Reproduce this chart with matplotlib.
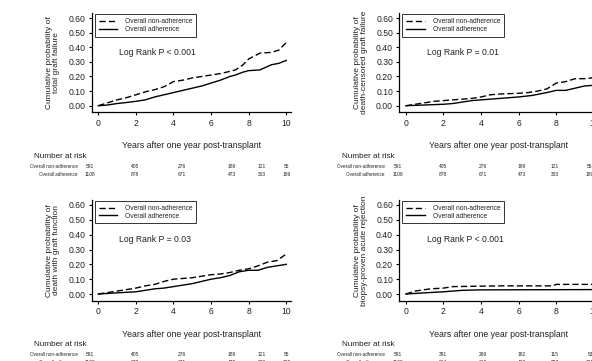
import matplotlib
matplotlib.use("Agg")
import matplotlib.pyplot as plt

# ---------------- data ----------------
years_ticks = [0, 2, 4, 6, 8, 10]
ytick_vals = [0.0, 0.1, 0.2, 0.3, 0.4, 0.5, 0.6]
xlabel = "Years after one year post-transplant"
series_labels = ["Overall non-adherence", "Overall adherence"]

# Panel A: total graft failure
a_t_non = [0, 0.5, 1, 1.5, 2, 2.5, 3, 3.5, 4, 4.5, 5, 5.5, 6, 6.5, 7, 7.3, 7.7, 8.0, 8.3, 8.6, 9.2, 9.6, 9.9, 10.0]
a_v_non = [0, 0.02, 0.04, 0.055, 0.075, 0.095, 0.11, 0.13, 0.165, 0.175, 0.19, 0.2, 0.21, 0.22, 0.235, 0.245, 0.28, 0.32, 0.34, 0.36, 0.365, 0.38, 0.42, 0.43]
a_t_adh = [0, 0.5, 1, 1.5, 2, 2.5, 3, 3.5, 4, 4.5, 5, 5.5, 6, 6.5, 7, 7.3, 7.7, 8.0, 8.6, 9.2, 9.6, 9.9, 10.0]
a_v_adh = [0, 0.005, 0.015, 0.022, 0.03, 0.04, 0.06, 0.075, 0.09, 0.105, 0.12, 0.135, 0.155, 0.175, 0.2, 0.21, 0.23, 0.24, 0.245, 0.28, 0.29, 0.305, 0.31]

# Panel B: death-censored graft failure
b_t_non = [0, 0.5, 1, 1.5, 2, 2.5, 3, 3.5, 4, 4.5, 5, 6, 6.5, 7, 7.5, 8, 8.5, 9, 9.5, 9.9, 10.0]
b_v_non = [0, 0.01, 0.02, 0.03, 0.035, 0.04, 0.045, 0.05, 0.06, 0.075, 0.08, 0.085, 0.09, 0.1, 0.115, 0.155, 0.165, 0.185, 0.185, 0.19, 0.21]
b_t_adh = [0, 1, 2, 2.5, 3, 3.5, 4, 5, 6, 6.7, 7.5, 8, 8.5, 9, 9.5, 10.0]
b_v_adh = [0, 0.005, 0.01, 0.015, 0.025, 0.035, 0.04, 0.05, 0.06, 0.07, 0.09, 0.105, 0.105, 0.12, 0.135, 0.14]

# Panel C: death with graft function
c_t_non = [0, 0.5, 1, 1.5, 2, 2.5, 3, 3.5, 4, 4.5, 5, 5.5, 6, 6.5, 7, 7.5, 8, 8.5, 9, 9.5, 10.0]
c_v_non = [0, 0.01, 0.02, 0.03, 0.04, 0.055, 0.065, 0.085, 0.1, 0.105, 0.11, 0.12, 0.13, 0.135, 0.145, 0.16, 0.17, 0.19, 0.215, 0.225, 0.27]
c_t_adh = [0, 1, 2, 2.5, 3, 3.5, 4, 4.5, 5, 5.5, 6, 6.5, 7, 7.5, 8, 8.5, 9, 9.5, 10.0]
c_v_adh = [0, 0.008, 0.015, 0.025, 0.035, 0.04, 0.05, 0.06, 0.07, 0.085, 0.1, 0.11, 0.125, 0.15, 0.16, 0.16, 0.18, 0.19, 0.2]

# Panel D: biopsy-proven acute rejection
d_t_non = [0, 0.5, 1.3, 2, 2.5, 5, 7.8, 8.0, 10.3]
d_v_non = [0, 0.02, 0.035, 0.04, 0.05, 0.055, 0.055, 0.065, 0.065]
d_t_adh = [0, 1, 2, 3, 4, 10.3]
d_v_adh = [0, 0.008, 0.015, 0.025, 0.028, 0.03]

ylabels = [
    "Cumulative probability of\ntotal graft failure",
    "Cumulative probability of\ndeath-censored graft failure",
    "Cumulative probability of\ndeath with graft function",
    "Cumulative probability of\nbiopsy-proven acute rejection",
]
pvalues = ["Log Rank P < 0.001", "Log Rank P = 0.01", "Log Rank P = 0.03", "Log Rank P < 0.001"]

risk_non_a = [591, 405, 276, 189, 121, 55]
risk_adh_a = [1108, 878, 671, 473, 303, 189]
risk_non_b = [591, 405, 276, 189, 121, 55]
risk_adh_b = [1108, 878, 671, 473, 303, 189]
risk_non_c = [591, 405, 276, 189, 121, 55]
risk_adh_c = [1108, 878, 671, 473, 303, 189]
risk_non_d = [591, 391, 269, 182, 115, 53]
risk_adh_d = [1108, 864, 660, 463, 297, 181]

# ---------------- layout ----------------
W, H = 592, 361
plt.rcParams['font.family'] = ['Liberation Sans', 'DejaVu Sans']
fig = plt.figure(figsize=(W / 100, H / 100), dpi=100)
TXT = '#222222'

YLO, YHI = -0.045, 0.635
XLO, XHI = -0.35, 10.25

def px_axes(x0, x1, y_top, y_bot):
    return fig.add_axes([x0 / W, 1 - y_bot / H, (x1 - x0) / W, (y_bot - y_top) / H])

def ftext(x, y, s, **kw):
    fig.text(x / W, 1 - y / H, s, color=TXT, **kw)

panels = [
    dict(ax=(91.7, 291.0, 12.9, 112.3), t_non=a_t_non, v_non=a_v_non, t_adh=a_t_adh, v_adh=a_v_adh,
         yl=ylabels[0], p=pvalues[0], rn=risk_non_a, ra=risk_adh_a, nar_y=156, lab_x=78, nar_x=60,
         num_x=[90, 135, 182, 232, 262, 287]),
    dict(ax=(399.3, 598.6, 12.9, 112.3), t_non=b_t_non, v_non=b_v_non, t_adh=b_t_adh, v_adh=b_v_adh,
         yl=ylabels[1], p=pvalues[1], rn=risk_non_b, ra=risk_adh_b, nar_y=156, lab_x=385, nar_x=368.5,
         num_x=[398, 443, 483, 522, 555, 590]),
    dict(ax=(91.7, 291.0, 199.8, 300.7), t_non=c_t_non, v_non=c_v_non, t_adh=c_t_adh, v_adh=c_v_adh,
         yl=ylabels[2], p=pvalues[2], rn=risk_non_c, ra=risk_adh_c, nar_y=344, lab_x=78, nar_x=60,
         num_x=[90, 135, 182, 232, 262, 287]),
    dict(ax=(399.3, 598.6, 199.8, 300.7), t_non=d_t_non, v_non=d_v_non, t_adh=d_t_adh, v_adh=d_v_adh,
         yl=ylabels[3], p=pvalues[3], rn=risk_non_d, ra=risk_adh_d, nar_y=344, lab_x=385, nar_x=368.5,
         num_x=[398, 443, 483, 522, 555, 590]),
]

for pnl in panels:
    ax = px_axes(*pnl['ax'])
    ax.plot(pnl['t_non'], pnl['v_non'], color='black', lw=1.0, dashes=(4.5, 2.2), label=series_labels[0])
    ax.plot(pnl['t_adh'], pnl['v_adh'], color='black', lw=1.0, label=series_labels[1])
    ax.set_xlim(XLO, XHI)
    ax.set_ylim(YLO, YHI)
    ax.set_xticks(years_ticks)
    ax.set_yticks(ytick_vals)
    ax.set_yticklabels([f"{v:.2f}" for v in ytick_vals])
    for s in ['top', 'right']:
        ax.spines[s].set_visible(False)
    for s in ['left', 'bottom']:
        ax.spines[s].set_linewidth(0.9)
    ax.tick_params(axis='both', length=2.5, width=0.8, pad=2, labelsize=6.2, colors=TXT)
    ax.tick_params(axis='both', color='black')
    ax.set_xlabel(xlabel, fontsize=6.3, color=TXT, labelpad=10)
    ax.set_ylabel(pnl['yl'], fontsize=6.0, color=TXT, linespacing=1.0)
    ax.yaxis.set_label_coords(-0.158, 0.5)
    ax.text(1.1, 0.365, pnl['p'], fontsize=6.2, color=TXT, transform=ax.transData, va='center')
    leg = ax.legend(loc='upper left', bbox_to_anchor=(0.016, 0.985), borderaxespad=0,
                    fontsize=4.8, frameon=True, fancybox=False, handlelength=2.8,
                    handletextpad=1.2, labelspacing=0.12, borderpad=0.55)
    leg.get_frame().set_edgecolor('black')
    leg.get_frame().set_linewidth(0.7)
    for t in leg.get_texts():
        t.set_color(TXT)

    # number at risk table
    ny = pnl['nar_y']
    ftext(pnl['nar_x'], ny, "Number at risk", fontsize=5.9, ha='center', va='center')
    ftext(pnl['lab_x'], ny + 10, series_labels[0], fontsize=3.3, ha='right', va='center')
    ftext(pnl['lab_x'], ny + 18, series_labels[1], fontsize=3.3, ha='right', va='center')
    for x, n1, n2 in zip(pnl['num_x'], pnl['rn'], pnl['ra']):
        ftext(x, ny + 10, str(n1), fontsize=3.5, ha='center', va='center')
        ftext(x, ny + 18, str(n2), fontsize=3.5, ha='center', va='center')

fig.savefig("out.png", dpi=100, facecolor='white')
